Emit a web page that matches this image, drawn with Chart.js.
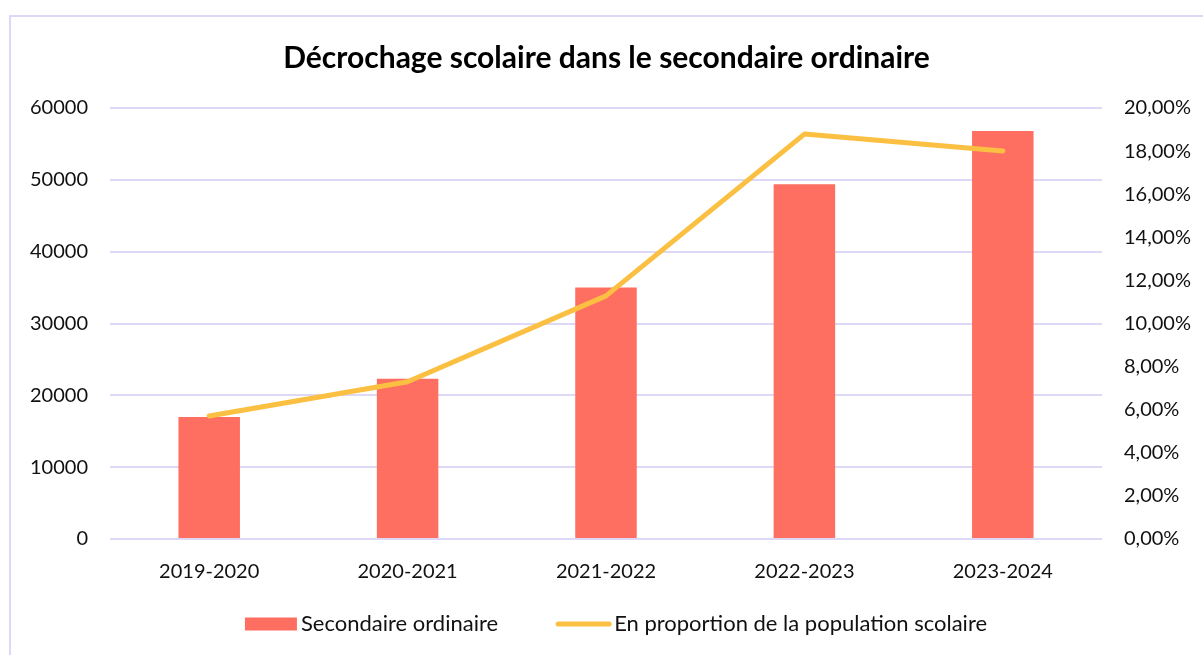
<!DOCTYPE html>
<html lang="fr">
<head>
<meta charset="utf-8">
<title>Décrochage scolaire</title>
<script src="https://cdn.jsdelivr.net/npm/chart.js@4"></script>
<style>
  html, body { margin: 0; padding: 0; background: #fff; overflow: hidden; }
  #cadre { position: absolute; left: 9px; top: 15px; width: 1400px; height: 900px; border: 2px solid #dcd8f6; }
  #boite { position: absolute; left: 0; top: 0; width: 1203px; height: 655px; }
</style>
</head>
<body>
<div id="cadre"></div>
<div id="boite"><canvas id="grafico" width="1203" height="655"></canvas></div>
<script>
// ===== DONNÉES =====
const annees = ["2019-2020", "2020-2021", "2021-2022", "2022-2023", "2023-2024"];
const secondaireOrdinaire = [17000, 22300, 35000, 49400, 56800];
const proportionPopulation = [0.0571, 0.0730, 0.1128, 0.1879, 0.1800];
const ticksGauche = ["0", "10000", "20000", "30000", "40000", "50000", "60000"];
const ticksDroite = ["0,00%", "2,00%", "4,00%", "6,00%", "8,00%", "10,00%",
  "12,00%", "14,00%", "16,00%", "18,00%", "20,00%"];

const POLICE = "Lato, 'Open Sans', sans-serif";
const ROUGE = "#ff6f61";
const JAUNE = "#fbbf42";

// ===== LÉGENDE (dessinée en bas) =====
const legendeBas = {
  id: "legendeBas",
  afterDraw(chart) {
    const ctx = chart.ctx;
    const barres = chart.data.datasets.find(d => d.type === "bar");
    const ligne = chart.data.datasets.find(d => d.type === "line");
    const y = 624;
    ctx.save();
    ctx.font = "22px " + POLICE;
    ctx.textBaseline = "middle";
    const t1 = ctx.measureText(barres.label).width;
    const t2 = ctx.measureText(ligne.label).width;
    const total = 52 + 4 + t1 + 58 + 55 + 3 + t2;
    let x = (chart.chartArea.left + chart.chartArea.right) / 2 + 10 - total / 2;

    ctx.fillStyle = barres.backgroundColor;
    ctx.fillRect(x, y - 6.5, 52, 13);
    x += 56;
    ctx.fillStyle = "#111";
    ctx.fillText(barres.label, x, y);
    x += t1 + 58;

    ctx.strokeStyle = ligne.borderColor;
    ctx.lineWidth = 5;
    ctx.lineCap = "round";
    ctx.beginPath();
    ctx.moveTo(x + 2, y);
    ctx.lineTo(x + 53, y);
    ctx.stroke();
    x += 58;
    ctx.fillText(ligne.label, x, y);
    ctx.restore();
  }
};

// ===== GRAPHIQUE =====
const ctx = document.getElementById("grafico").getContext("2d");

const grafico = new Chart(ctx, {
  type: "bar",
  data: {
    labels: annees,
    datasets: [{
      type: "line",
      label: "En proportion de la population scolaire",
      data: proportionPopulation,
      yAxisID: "y1",
      borderColor: JAUNE,
      backgroundColor: JAUNE,
      borderWidth: 5,
      borderCapStyle: "round",
      borderJoinStyle: "round",
      pointRadius: 0,
      tension: 0,
      order: 0
    }, {
      type: "bar",
      label: "Secondaire ordinaire",
      data: secondaireOrdinaire,
      yAxisID: "y",
      backgroundColor: ROUGE,
      barPercentage: 0.31,
      categoryPercentage: 1,
      order: 1
    }]
  },
  options: {
    responsive: false,
    animation: false,
    layout: { padding: { left: 10, right: 0, top: 0, bottom: 66 } },
    plugins: {
      legend: { display: false },
      tooltip: { enabled: false },
      title: {
        display: true,
        text: "Décrochage scolaire dans le secondaire ordinaire",
        color: "#000",
        font: { family: POLICE, size: 30, weight: "bold" },
        padding: { top: 40, bottom: 32 }
      }
    },
    scales: {
      x: {
        grid: { display: false },
        border: { display: false },
        ticks: { color: "#111", font: { family: POLICE, size: 20 }, padding: 13 },
        afterFit: s => { s.height = 50; }
      },
      y: {
        position: "left",
        min: 0, max: 60000,
        ticks: {
          stepSize: 10000,
          padding: 22,
          color: "#111",
          font: { family: POLICE, size: 20 },
          callback: (v, i) => ticksGauche[i]
        },
        grid: { color: "#dcd8f6", lineWidth: 2, drawTicks: false },
        border: { display: false },
        afterFit: s => { s.width = 100; }
      },
      y1: {
        position: "right",
        min: 0, max: 0.2,
        ticks: {
          stepSize: 0.02,
          padding: 22,
          color: "#111",
          font: { family: POLICE, size: 20 },
          callback: (v, i) => ticksDroite[i]
        },
        grid: { display: false, drawTicks: false },
        border: { display: false },
        afterFit: s => { s.width = 101; }
      }
    }
  },
  plugins: [legendeBas]
});
</script>
</body>
</html>
